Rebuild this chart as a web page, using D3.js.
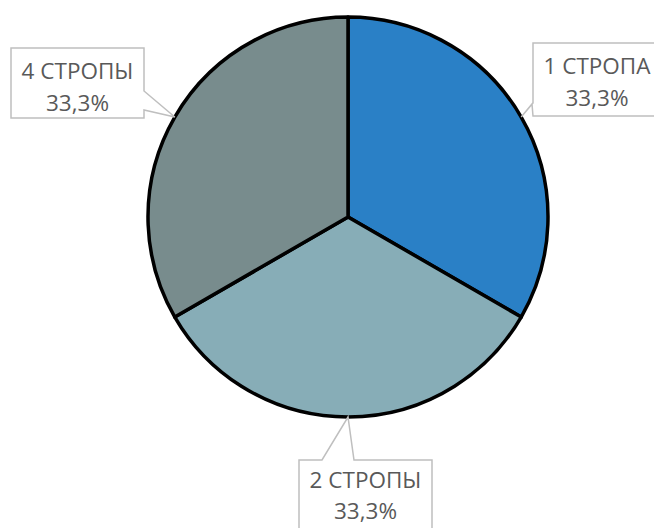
<!DOCTYPE html>
<html>
<head>
<meta charset="utf-8">
<script src="https://cdn.jsdelivr.net/npm/d3@7"></script>
<style>
  body { margin: 0; background: #ffffff; }
  svg { display: block; }
  .lbl { font-family: "Open Sans", "Noto Sans", sans-serif; font-size: 22.5px; fill: #595959; }
</style>
</head>
<body>
<svg id="chart" width="654" height="528"></svg>
<script>
// pie data
const categories = ["1 СТРОПА", "2 СТРОПЫ", "4 СТРОПЫ"];
const values = [1, 1, 1];
const colors = ["#2a80c6", "#87adb7", "#788c8d"];

const width = 654, height = 528;
const cx = 348, cy = 217, radius = 200;

const svg = d3.select('#chart');
const g = svg.append('g').attr('transform', `translate(${cx},${cy})`);

const pie = d3.pie().sort(null).value(d => d.value);
const arc = d3.arc().innerRadius(0).outerRadius(radius);

const data = pie(categories.map((c, i) => ({ name: c, value: values[i], color: colors[i] })));
const total = d3.sum(values);

// Draw slices
g.selectAll('path.slice')
    .data(data)
    .enter()
    .append('path')
    .attr('class', 'slice')
    .attr('d', arc)
    .attr('fill', d => d.data.color)
    .attr('stroke', '#000000')
    .attr('stroke-width', 3.5)
    .attr('stroke-linejoin', 'round');

// Callout boxes (page coords): box rect and the two base points of the pointer
const callouts = [
    { x: 533, y: 43, w: 128, h: 73, side: 'left', b1: 105, b2: 116 },
    { x: 299, y: 460, w: 133, h: 73, side: 'top', b1: 322, b2: 354 },
    { x: 11, y: 48, w: 133, h: 70, side: 'right', b1: 91, b2: 110 }
];

function tipOf(d) {
    const a = (d.startAngle + d.endAngle) / 2;
    return [cx + radius * Math.sin(a), cy - radius * Math.cos(a)];
}

function calloutPath(c, tip) {
    const x0 = c.x, y0 = c.y, x1 = c.x + c.w, y1 = c.y + c.h;
    let pts;
    if (c.side === 'left') {
        pts = [[x0, y0], [x1, y0], [x1, y1], [x0, y1], [x0 - 1, c.b1 - 1], tip, [x0, c.b1 - 2], [x0, y0]];
    } else if (c.side === 'top') {
        pts = [[x0, y0], [c.b1, y0], tip, [c.b2, y0], [x1, y0], [x1, y1], [x0, y1], [x0, y0]];
    } else {
        pts = [[x0, y0], [x1, y0], [x1, c.b1], tip, [x1, c.b2], [x1, y1], [x0, y1], [x0, y0]];
    }
    return d3.line()(pts) + 'Z';
}

const labels = svg.append('g');
const fmt = v => d3.format('.1f')(v).replace('.', ',') + '%';

data.forEach((d, i) => {
    const c = callouts[i];
    const tip = tipOf(d);
    labels.append('path')
        .attr('d', calloutPath(c, tip))
        .attr('fill', '#ffffff')
        .attr('stroke', '#bfbfbf')
        .attr('stroke-width', 1.5);
    const tx = c.x + c.w / 2;
    // keep the second line inside the page
    const y2 = Math.min(c.y + 63, height - 9);
    const y1 = Math.min(c.y + 31, y2 - 31);
    const t = labels.append('text')
        .attr('class', 'lbl')
        .attr('text-anchor', 'middle');
    t.append('tspan').attr('x', tx).attr('y', y1).text(d.data.name);
    t.append('tspan').attr('x', tx).attr('y', y2).text(fmt(d.data.value / total * 100));
});
</script>
</body>
</html>
